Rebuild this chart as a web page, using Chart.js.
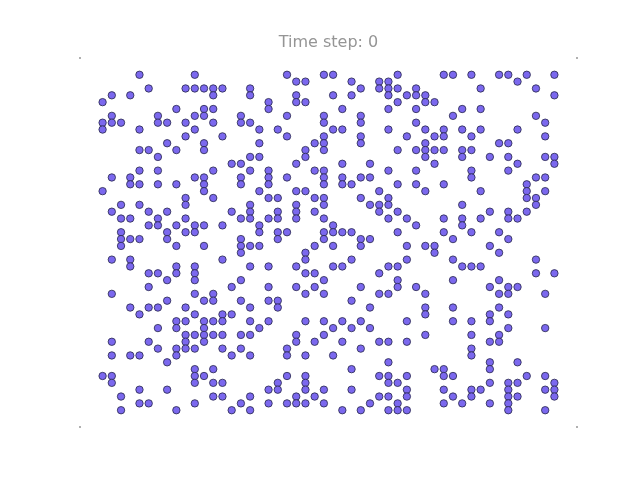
<!DOCTYPE html>
<html>
<head>
<meta charset="utf-8">
<script src="https://cdn.jsdelivr.net/npm/chart.js@4"></script>
<style>
  html, body { margin: 0; padding: 0; background: #ffffff; }
  #wrap { width: 640px; height: 480px; }
</style>
</head>
<body>
<div id="wrap"><canvas id="c" width="640" height="480"></canvas></div>
<script>
// Grid of live cells: for each row (top to bottom), the columns that are alive
const titleText = 'Time step: 0';
const gridSize = 50;
const aliveByRow = [
  [4, 10, 20, 24, 25, 32, 37, 38, 40, 43, 44, 46, 49],
  [21, 22, 27, 30, 31, 45],
  [5, 9, 10, 11, 12, 13, 16, 28, 30, 31, 32, 34, 41, 47],
  [1, 3, 12, 16, 21, 25, 27, 31, 33, 34, 35, 49],
  [0, 18, 21, 22, 32, 35, 36],
  [8, 11, 12, 18, 26, 31, 34, 39, 41],
  [1, 6, 10, 11, 15, 20, 24, 28, 38, 47],
  [0, 1, 2, 6, 7, 9, 12, 15, 16, 24, 28, 34, 48],
  [0, 4, 10, 17, 19, 25, 26, 31, 35, 37, 39, 41, 45],
  [9, 13, 20, 24, 28, 33, 36, 37, 40, 48],
  [7, 11, 17, 23, 24, 28, 35, 43, 44],
  [4, 5, 8, 11, 22, 24, 32, 34, 35, 36, 37, 39, 40],
  [6, 16, 17, 22, 35, 39, 42, 44, 48, 49],
  [14, 15, 21, 26, 29, 36, 45, 49],
  [4, 6, 12, 16, 18, 23, 24, 31, 34, 40, 44],
  [1, 3, 10, 11, 15, 18, 20, 24, 26, 28, 29, 40, 47, 48],
  [3, 4, 6, 8, 11, 15, 18, 24, 26, 27, 32, 34, 37, 46],
  [0, 11, 17, 21, 22, 30, 35, 41, 46, 48],
  [9, 12, 18, 19, 23, 24, 28, 31, 46, 47],
  [2, 4, 9, 16, 21, 24, 29, 30, 31, 39, 47],
  [1, 5, 7, 14, 16, 19, 21, 23, 30, 32, 42, 44, 46],
  [2, 3, 6, 9, 15, 16, 18, 19, 21, 24, 31, 33, 37, 39, 41, 44, 45],
  [5, 6, 8, 10, 11, 13, 17, 25, 34, 39],
  [2, 7, 9, 10, 17, 19, 20, 24, 25, 26, 27, 32, 37, 40, 43],
  [2, 3, 4, 7, 15, 19, 24, 28, 29, 38, 44],
  [2, 8, 11, 15, 16, 17, 23, 25, 28, 33, 35, 36, 42],
  [15, 22, 36, 43],
  [1, 3, 13, 22, 27, 33, 38, 47],
  [3, 8, 10, 16, 18, 21, 25, 26, 31, 32, 39, 40, 41],
  [5, 6, 8, 10, 22, 23, 30, 47, 49],
  [7, 10, 15, 24, 32, 38, 43],
  [5, 14, 18, 21, 23, 28, 32, 34, 42, 44, 45],
  [1, 10, 12, 22, 24, 30, 31, 35, 43, 44, 48],
  [7, 11, 12, 15, 18, 19, 27],
  [3, 5, 6, 9, 16, 19, 29, 35, 38, 43],
  [4, 10, 13, 14, 35, 42, 44],
  [8, 9, 11, 12, 13, 16, 18, 22, 24, 26, 28, 33, 38, 40, 42],
  [6, 8, 11, 17, 25, 27, 29, 44, 48],
  [9, 10, 11, 12, 13, 15, 16, 21, 24, 35, 40, 43],
  [1, 5, 9, 11, 21, 23, 26, 30, 31, 33, 42, 43],
  [6, 8, 9, 10, 13, 15, 20, 28, 40],
  [1, 3, 4, 8, 14, 16, 20, 22, 25, 40],
  [7, 31, 42, 45],
  [10, 12, 27, 36, 37, 42],
  [0, 1, 10, 11, 20, 22, 30, 31, 33, 37, 38, 46, 48],
  [1, 10, 12, 13, 19, 22, 31, 32, 42, 44, 45, 49],
  [4, 7, 18, 19, 22, 24, 27, 33, 37, 40, 41, 44, 48, 49],
  [2, 12, 13, 16, 21, 23, 30, 31, 33, 38, 40, 44, 45, 49],
  [4, 5, 10, 15, 18, 20, 21, 22, 24, 29, 32, 37, 39, 42, 44],
  [2, 8, 14, 16, 26, 28, 31, 32, 33, 44, 48]
];

const cells = [];
aliveByRow.forEach((cols, row) => {
  cols.forEach(col => cells.push({ x: col, y: row }));
});

const margin = (gridSize - 1) * 0.05;

const cornerMarks = {
  id: 'cornerMarks',
  afterDraw(chart) {
    const a = chart.chartArea;
    const ctx = chart.ctx;
    ctx.save();
    ctx.fillStyle = '#b0b0b0';
    [[a.left, a.top], [a.right, a.top], [a.left, a.bottom], [a.right, a.bottom]].forEach(([x, y]) => {
      ctx.fillRect(Math.round(x) - 1, Math.round(y) - 1, 2, 2);
    });
    ctx.restore();
  }
};

new Chart(document.getElementById('c'), {
  type: 'scatter',
  data: {
    datasets: [{
      data: cells,
      pointRadius: 3.7,
      pointHoverRadius: 3.7,
      backgroundColor: '#7b68ee',
      borderColor: '#26264a',
      borderWidth: 0.8
    }]
  },
  options: {
    responsive: false,
    animation: false,
    events: [],
    layout: { padding: { left: 80, right: 63, top: 0, bottom: 53 } },
    plugins: {
      legend: { display: false },
      tooltip: { enabled: false },
      title: {
        display: true,
        text: titleText,
        color: '#959595',
        font: { family: 'DejaVu Sans', size: 16, weight: 'normal', lineHeight: 1.2 },
        padding: { top: 33, bottom: 5.8 }
      }
    },
    scales: {
      x: { type: 'linear', display: false, min: -margin, max: gridSize - 1 + margin },
      y: { type: 'linear', display: false, reverse: true, min: -margin, max: gridSize - 1 + margin }
    }
  },
  plugins: [cornerMarks]
});
</script>
</body>
</html>
